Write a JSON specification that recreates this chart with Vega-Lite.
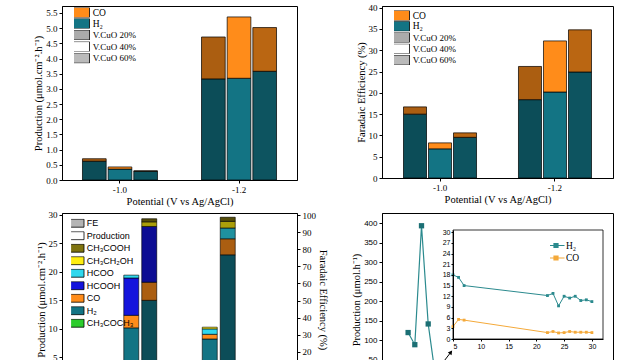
{
  "$schema": "https://vega.github.io/schema/vega-lite/v6.json",
  "padding": {"left": 33, "top": 3, "right": 0, "bottom": 0},
  "autosize": {"type": "pad"},
  "columns": 2,
  "bounds": "flush",
  "spacing": {"row": 33, "column": 85},
  "resolve": {"scale": {"color": "independent", "xOffset": "independent", "shape": "independent"}, "legend": {"color": "independent"}},
  "datasets": {
    "a": [
      {"pot": "-1.0", "cat": "V.CuO 20%", "sp": "H₂", "o": 1, "v": 0.62},
      {"pot": "-1.0", "cat": "V.CuO 20%", "sp": "CO", "o": 2, "v": 0.08},
      {"pot": "-1.0", "cat": "V.CuO 40%", "sp": "H₂", "o": 1, "v": 0.36},
      {"pot": "-1.0", "cat": "V.CuO 40%", "sp": "CO", "o": 2, "v": 0.07},
      {"pot": "-1.0", "cat": "V.CuO 60%", "sp": "H₂", "o": 1, "v": 0.29},
      {"pot": "-1.0", "cat": "V.CuO 60%", "sp": "CO", "o": 2, "v": 0.01},
      {"pot": "-1.2", "cat": "V.CuO 20%", "sp": "H₂", "o": 1, "v": 3.33},
      {"pot": "-1.2", "cat": "V.CuO 20%", "sp": "CO", "o": 2, "v": 1.38},
      {"pot": "-1.2", "cat": "V.CuO 40%", "sp": "H₂", "o": 1, "v": 3.35},
      {"pot": "-1.2", "cat": "V.CuO 40%", "sp": "CO", "o": 2, "v": 2.02},
      {"pot": "-1.2", "cat": "V.CuO 60%", "sp": "H₂", "o": 1, "v": 3.58},
      {"pot": "-1.2", "cat": "V.CuO 60%", "sp": "CO", "o": 2, "v": 1.44}
    ],
    "b": [
      {"pot": "-1.0", "cat": "V.CuO 20%", "sp": "H₂", "o": 1, "v": 15.0},
      {"pot": "-1.0", "cat": "V.CuO 20%", "sp": "CO", "o": 2, "v": 1.7},
      {"pot": "-1.0", "cat": "V.CuO 40%", "sp": "H₂", "o": 1, "v": 6.85},
      {"pot": "-1.0", "cat": "V.CuO 40%", "sp": "CO", "o": 2, "v": 1.4},
      {"pot": "-1.0", "cat": "V.CuO 60%", "sp": "H₂", "o": 1, "v": 9.55},
      {"pot": "-1.0", "cat": "V.CuO 60%", "sp": "CO", "o": 2, "v": 1.05},
      {"pot": "-1.2", "cat": "V.CuO 20%", "sp": "H₂", "o": 1, "v": 18.4},
      {"pot": "-1.2", "cat": "V.CuO 20%", "sp": "CO", "o": 2, "v": 7.8},
      {"pot": "-1.2", "cat": "V.CuO 40%", "sp": "H₂", "o": 1, "v": 20.2},
      {"pot": "-1.2", "cat": "V.CuO 40%", "sp": "CO", "o": 2, "v": 12.0},
      {"pot": "-1.2", "cat": "V.CuO 60%", "sp": "H₂", "o": 1, "v": 24.9},
      {"pot": "-1.2", "cat": "V.CuO 60%", "sp": "CO", "o": 2, "v": 9.9}
    ],
    "c_prod": [
      {"g": "-1.0", "type": "Production", "sp": "H₂", "o": 1, "v": 10.2},
      {"g": "-1.0", "type": "Production", "sp": "CO", "o": 2, "v": 2.2},
      {"g": "-1.0", "type": "Production", "sp": "HCOOH", "o": 3, "v": 6.55},
      {"g": "-1.0", "type": "Production", "sp": "HCOO", "o": 4, "v": 0.5},
      {"g": "-1.2", "type": "Production", "sp": "H₂", "o": 1, "v": 8.25},
      {"g": "-1.2", "type": "Production", "sp": "CO", "o": 2, "v": 0.82},
      {"g": "-1.2", "type": "Production", "sp": "HCOO", "o": 4, "v": 0.95},
      {"g": "-1.2", "type": "Production", "sp": "CH₃CH₂OH", "o": 5, "v": 0.3}
    ],
    "c_fe": [
      {"g": "-1.0", "type": "FE", "sp": "H₂", "o": 1, "v": 50.1},
      {"g": "-1.0", "type": "FE", "sp": "CO", "o": 2, "v": 10.6},
      {"g": "-1.0", "type": "FE", "sp": "HCOOH", "o": 3, "v": 32.6},
      {"g": "-1.0", "type": "FE", "sp": "CH₃CH₂OH", "o": 5, "v": 2.7},
      {"g": "-1.0", "type": "FE", "sp": "CH₃COOH", "o": 6, "v": 1.8},
      {"g": "-1.2", "type": "FE", "sp": "H₂", "o": 1, "v": 76.7},
      {"g": "-1.2", "type": "FE", "sp": "CO", "o": 2, "v": 9.4},
      {"g": "-1.2", "type": "FE", "sp": "HCOO", "o": 4, "v": 6.3},
      {"g": "-1.2", "type": "FE", "sp": "CH₃CH₂OH", "o": 5, "v": 3.9},
      {"g": "-1.2", "type": "FE", "sp": "CH₃COOH", "o": 6, "v": 2.4}
    ],
    "d_main": [
      {"t": 1, "sp": "H₂", "v": 120},
      {"t": 2, "sp": "H₂", "v": 89},
      {"t": 3, "sp": "H₂", "v": 393},
      {"t": 4, "sp": "H₂", "v": 142},
      {"t": 5, "sp": "H₂", "v": 18},
      {"t": 6, "sp": "H₂", "v": 17.3},
      {"t": 7, "sp": "H₂", "v": 15},
      {"t": 22, "sp": "H₂", "v": 12.2},
      {"t": 23, "sp": "H₂", "v": 12.8},
      {"t": 24, "sp": "H₂", "v": 9.3},
      {"t": 25, "sp": "H₂", "v": 12},
      {"t": 26, "sp": "H₂", "v": 11.5},
      {"t": 27, "sp": "H₂", "v": 12},
      {"t": 28, "sp": "H₂", "v": 10.8},
      {"t": 29, "sp": "H₂", "v": 11},
      {"t": 30, "sp": "H₂", "v": 10.5}
    ],
    "d_inset": [
      {"t": 5, "sp": "H₂", "v": 18},
      {"t": 6, "sp": "H₂", "v": 17.3},
      {"t": 7, "sp": "H₂", "v": 15},
      {"t": 22, "sp": "H₂", "v": 12.2},
      {"t": 23, "sp": "H₂", "v": 12.8},
      {"t": 24, "sp": "H₂", "v": 9.3},
      {"t": 25, "sp": "H₂", "v": 12},
      {"t": 26, "sp": "H₂", "v": 11.5},
      {"t": 27, "sp": "H₂", "v": 12},
      {"t": 28, "sp": "H₂", "v": 10.8},
      {"t": 29, "sp": "H₂", "v": 11},
      {"t": 30, "sp": "H₂", "v": 10.5},
      {"t": 5, "sp": "CO", "v": 3.5},
      {"t": 6, "sp": "CO", "v": 5.5},
      {"t": 7, "sp": "CO", "v": 5.3},
      {"t": 22, "sp": "CO", "v": 1.8},
      {"t": 23, "sp": "CO", "v": 2.1},
      {"t": 24, "sp": "CO", "v": 1.7},
      {"t": 25, "sp": "CO", "v": 1.8},
      {"t": 26, "sp": "CO", "v": 2.1},
      {"t": 27, "sp": "CO", "v": 1.9},
      {"t": 28, "sp": "CO", "v": 1.9},
      {"t": 29, "sp": "CO", "v": 1.9},
      {"t": 30, "sp": "CO", "v": 1.8}
    ],
    "d_box": [{"x1": 5, "x2": 32, "y1": 0, "y2": 30.6}],
    "d_arrow": [{"x1": 2.84, "y1": -7.3, "x2": 4.62, "y2": -3.7}]
  },
  "concat": [
    {
      "width": 235,
      "height": 174,
      "data": {"name": "a"},
      "encoding": {
        "x": {"field": "pot", "type": "nominal", "sort": ["-1.0", "-1.2"], "scale": {"paddingInner": 0.37, "paddingOuter": 0.172}, "axis": {"labelAngle": 0, "title": "Potential (V vs Ag/AgCl)"}},
        "xOffset": {"field": "cat", "type": "nominal", "sort": ["V.CuO 20%", "V.CuO 40%", "V.CuO 60%"], "scale": {"paddingInner": 0.077, "paddingOuter": 0}},
        "y": {"field": "v", "type": "quantitative", "stack": "zero", "scale": {"domain": [0, 5.73], "nice": false}, "axis": {"values": [0, 0.5, 1, 1.5, 2, 2.5, 3, 3.5, 4, 4.5, 5, 5.5], "format": ".1f", "title": "Production (μmol.cm⁻².h⁻¹)"}},
        "order": {"field": "o", "type": "quantitative"}
      },
      "layer": [
        {
          "mark": {"type": "bar", "stroke": "black", "strokeWidth": 0.7},
          "encoding": {
            "color": {"field": "sp", "type": "nominal", "scale": {"domain": ["CO", "H₂"], "range": ["#ff8c1a", "#137484"]},
              "legend": {"orient": "none", "legendX": 12, "legendY": 1.5, "title": null, "symbolType": "M-2,-1H2V1H-2Z", "symbolSize": 100, "clipHeight": 10, "labelOffset": 7.7, "rowPadding": 1, "symbolStrokeColor": "black", "symbolStrokeWidth": 0.8, "labelFontSize": 9.5}}
          }
        },
        {
          "mark": {"type": "bar", "strokeWidth": 0},
          "encoding": {
            "detail": {"field": "sp"},
            "color": {"field": "cat", "type": "nominal", "scale": {"domain": ["V.CuO 20%", "V.CuO 40%", "V.CuO 60%"], "range": ["rgba(0,0,0,0.33)", "rgba(0,0,0,0)", "rgba(0,0,0,0.27)"]},
              "legend": {"orient": "none", "legendX": 12, "legendY": 24, "title": null, "symbolType": "M-2,-1H2V1H-2Z", "symbolSize": 100, "clipHeight": 10, "labelOffset": 7.7, "rowPadding": 1.6, "symbolStrokeColor": "black", "symbolStrokeWidth": 0.8, "labelFontSize": 9}}
          }
        }
      ],
      "resolve": {"scale": {"color": "independent"}}
    },
    {
      "width": 231,
      "height": 172,
      "data": {"name": "b"},
      "encoding": {
        "x": {"field": "pot", "type": "nominal", "sort": ["-1.0", "-1.2"], "scale": {"paddingInner": 0.365, "paddingOuter": 0.187}, "axis": {"labelAngle": 0, "title": "Potential (V vs Ag/AgCl)"}},
        "xOffset": {"field": "cat", "type": "nominal", "sort": ["V.CuO 20%", "V.CuO 40%", "V.CuO 60%"], "scale": {"paddingInner": 0.08, "paddingOuter": 0}},
        "y": {"field": "v", "type": "quantitative", "stack": "zero", "scale": {"domain": [0, 40.4], "nice": false}, "axis": {"values": [0, 5, 10, 15, 20, 25, 30, 35, 40], "title": "Faradaic Efficiency (%)"}},
        "order": {"field": "o", "type": "quantitative"}
      },
      "layer": [
        {
          "mark": {"type": "bar", "stroke": "black", "strokeWidth": 0.7},
          "encoding": {
            "color": {"field": "sp", "type": "nominal", "scale": {"domain": ["CO", "H₂"], "range": ["#ff8c1a", "#137484"]},
              "legend": {"orient": "none", "legendX": 12, "legendY": 4.5, "title": null, "symbolType": "M-2,-1H2V1H-2Z", "symbolSize": 100, "clipHeight": 10, "labelOffset": 7.7, "rowPadding": 0.8, "symbolStrokeColor": "black", "symbolStrokeWidth": 0.8, "labelFontSize": 9.5}}
          }
        },
        {
          "mark": {"type": "bar", "strokeWidth": 0},
          "encoding": {
            "detail": {"field": "sp"},
            "color": {"field": "cat", "type": "nominal", "scale": {"domain": ["V.CuO 20%", "V.CuO 40%", "V.CuO 60%"], "range": ["rgba(0,0,0,0.33)", "rgba(0,0,0,0)", "rgba(0,0,0,0.27)"]},
              "legend": {"orient": "none", "legendX": 12, "legendY": 26.5, "title": null, "symbolType": "M-2,-1H2V1H-2Z", "symbolSize": 100, "clipHeight": 10, "labelOffset": 7.7, "rowPadding": 1.3, "symbolStrokeColor": "black", "symbolStrokeWidth": 0.8, "labelFontSize": 9}}
          }
        }
      ],
      "resolve": {"scale": {"color": "independent"}}
    },
    {
      "width": 235,
      "height": 173,
      "encoding": {
        "x": {"field": "g", "type": "nominal", "sort": ["-1.0", "-1.2"], "scale": {"paddingInner": 0.58, "paddingOuter": 0.787}, "axis": {"labelAngle": 0, "title": "Potential (V vs Ag/AgCl)"}},
        "xOffset": {"field": "type", "type": "nominal", "scale": {"domain": ["Production", "FE"], "paddingInner": 0.167, "paddingOuter": 0}},
        "order": {"field": "o", "type": "quantitative"}
      },
      "layer": [
        {
          "data": {"name": "c_prod"},
          "mark": {"type": "bar", "stroke": "black", "strokeWidth": 0.6},
          "encoding": {
            "y": {"field": "v", "type": "quantitative", "stack": "zero", "scale": {"domain": [0, 30.35], "nice": false}, "axis": {"values": [0, 5, 10, 15, 20, 25, 30], "title": "Production (μmol.cm⁻².h⁻¹)"}},
            "color": {"field": "sp", "type": "nominal",
              "scale": {"domain": ["FE", "Production", "CH₃COOH", "CH₃CH₂OH", "HCOO", "HCOOH", "CO", "H₂", "CH₃COCH₃"], "range": ["#b4b4b4", "#ffffff", "#7f7410", "#ffee10", "#2fd8ee", "#1414dc", "#ff8c1a", "#137484", "#2ccc2c"]},
              "legend": {"orient": "none", "legendX": 9.1, "legendY": 5.7, "title": null, "symbolType": "M-2.1,-1H2.1V1H-2.1Z", "symbolSize": 64, "clipHeight": 9, "labelOffset": 6.6, "rowPadding": 2.5, "symbolStrokeColor": "black", "symbolStrokeWidth": 0.8, "labelFont": "Liberation Sans", "labelFontSize": 9}}
          }
        },
        {
          "data": {"name": "c_fe"},
          "encoding": {
            "y": {"field": "v", "type": "quantitative", "stack": "zero", "scale": {"domain": [0, 101.17], "nice": false}, "axis": {"orient": "right", "values": [0, 10, 20, 30, 40, 50, 60, 70, 80, 90, 100], "title": "Faradaic Efficiency (%)"}}
          },
          "layer": [
            {
              "mark": {"type": "bar", "stroke": "black", "strokeWidth": 0.6},
              "encoding": {
                "color": {"field": "sp", "type": "nominal", "scale": {"domain": ["FE", "Production", "CH₃COOH", "CH₃CH₂OH", "HCOO", "HCOOH", "CO", "H₂", "CH₃COCH₃"], "range": ["#b4b4b4", "#ffffff", "#7f7410", "#ffee10", "#2fd8ee", "#1414dc", "#ff8c1a", "#137484", "#2ccc2c"]}}
              }
            },
            {
              "mark": {"type": "bar", "color": "black", "opacity": 0.33, "strokeWidth": 0},
              "encoding": {"detail": {"field": "sp"}}
            }
          ]
        }
      ],
      "resolve": {"scale": {"y": "independent"}}
    },
    {
      "width": 231,
      "height": 173,
      "layer": [
        {
          "data": {"name": "d_main"},
          "encoding": {
            "x": {"field": "t", "type": "quantitative", "scale": {"domain": [-2.9, 31.6], "nice": false, "zero": false}, "axis": {"title": "Time (h)", "labelFont": "Liberation Sans", "labelFontSize": 8}},
            "y": {"field": "v", "type": "quantitative", "scale": {"domain": [-16.6, 425.6], "nice": false, "zero": false}, "axis": {"values": [0, 50, 100, 150, 200, 250, 300, 350, 400], "title": "Production (μmol.h⁻¹)", "labelFont": "Liberation Sans", "labelFontSize": 8}}
          },
          "layer": [
            {
              "mark": {"type": "line", "strokeWidth": 1.2},
              "encoding": {
                "color": {"field": "sp", "type": "nominal", "scale": {"domain": ["H₂", "CO"], "range": ["#2b8a8e", "#f4a93a"]},
                  "legend": {"orient": "none", "legendX": 168, "legendY": 27, "title": null, "symbolType": "M-1.7,0H1.7M-0.4,-0.4H0.4V0.4H-0.4Z", "symbolSize": 100, "clipHeight": 11, "symbolStrokeWidth": 1.2, "labelOffset": 4, "rowPadding": 1.5, "labelFontSize": 9.5}}
              }
            },
            {
              "mark": {"type": "point", "shape": "square", "filled": true, "size": 28, "color": "#1b6f74", "opacity": 1},
              "encoding": {}
            }
          ]
        },
        {
          "data": {"name": "d_inset"},
          "encoding": {
            "x": {"field": "t", "type": "quantitative", "scale": {"domain": [5, 32], "range": [71, 221], "nice": false, "zero": false},
              "axis": {"orient": "bottom", "offset": -47, "values": [5, 10, 15, 20, 25, 30], "title": null, "labelFont": "Liberation Sans", "labelFontSize": 7, "tickSize": 2, "labelPadding": 1, "zindex": 1}},
            "y": {"field": "v", "type": "quantitative", "scale": {"domain": [0, 30.6], "range": [126, 17], "nice": false, "zero": false},
              "axis": {"orient": "left", "offset": -71, "values": [0, 3, 6, 9, 12, 15, 18, 21, 24, 27, 30], "title": null, "labelFont": "Liberation Sans", "labelFontSize": 7, "tickSize": 2, "labelPadding": 1, "zindex": 1}}
          },
          "layer": [
            {
              "data": {"name": "d_box"},
              "mark": {"type": "rect", "fill": "transparent", "stroke": "black", "strokeWidth": 0.8},
              "encoding": {
                "x": {"field": "x1", "type": "quantitative"},
                "x2": {"field": "x2"},
                "y": {"field": "y1", "type": "quantitative"},
                "y2": {"field": "y2"}
              }
            },
            {
              "data": {"name": "d_arrow"},
              "mark": {"type": "rule", "color": "black", "strokeWidth": 1},
              "encoding": {
                "x": {"field": "x1", "type": "quantitative"},
                "x2": {"field": "x2"},
                "y": {"field": "y1", "type": "quantitative"},
                "y2": {"field": "y2"}
              }
            },
            {
              "data": {"name": "d_arrow"},
              "mark": {"type": "point", "shape": "triangle-up", "filled": true, "size": 22, "color": "black", "opacity": 1, "angle": 37},
              "encoding": {
                "x": {"field": "x2", "type": "quantitative"},
                "y": {"field": "y2", "type": "quantitative"}
              }
            },
            {
              "mark": {"type": "line", "strokeWidth": 1},
              "encoding": {
                "color": {"field": "sp", "type": "nominal", "scale": {"domain": ["H₂", "CO"], "range": ["#2b8a8e", "#f4a93a"]},
                  "legend": {"orient": "none", "legendX": 168, "legendY": 27, "title": null, "symbolType": "M-1.7,0H1.7M-0.4,-0.4H0.4V0.4H-0.4Z", "symbolSize": 100, "clipHeight": 11, "symbolStrokeWidth": 1.2, "labelOffset": 4, "rowPadding": 1.5, "labelFontSize": 9.5}}
              }
            },
            {
              "mark": {"type": "point", "shape": "square", "filled": true, "size": 8, "opacity": 1},
              "encoding": {
                "color": {"field": "sp", "type": "nominal", "scale": {"domain": ["H₂", "CO"], "range": ["#2b8a8e", "#f4a93a"]}, "legend": null}
              }
            }
          ]
        }
      ],
      "resolve": {"scale": {"x": "independent", "y": "independent"}}
    }
  ],
  "config": {
    "font": "Liberation Serif",
    "view": {"stroke": "black", "strokeWidth": 1},
    "axis": {"domainColor": "black", "tickColor": "black", "labelColor": "black", "titleColor": "black", "labelFont": "Liberation Serif", "titleFont": "Liberation Serif", "labelFontSize": 9, "titleFontSize": 10.5, "titleFontWeight": "normal", "grid": false, "tickSize": 3, "labelPadding": 2, "titlePadding": 2},
    "legend": {"labelFont": "Liberation Serif", "labelColor": "black", "padding": 0, "titlePadding": 0}
  }
}
